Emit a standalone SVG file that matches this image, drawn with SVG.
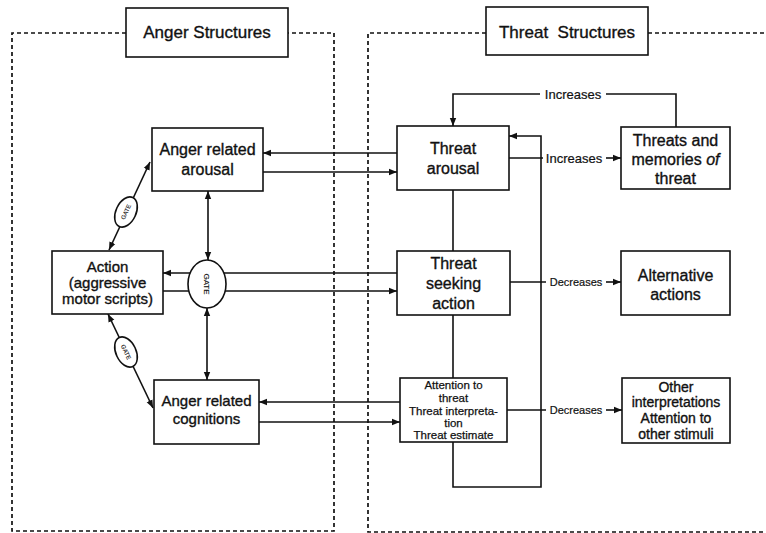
<svg xmlns="http://www.w3.org/2000/svg" width="766" height="533" viewBox="0 0 766 533">
<style>
  .frame{fill:none;stroke:#111;stroke-width:1.7;stroke-dasharray:4 3}
  .box{fill:#fff;stroke:#111;stroke-width:1.6}
  .ln{fill:none;stroke:#111;stroke-width:1.6}
  .t{font-family:"Liberation Sans",Arial,sans-serif;fill:#111;text-anchor:middle;stroke:#111;stroke-width:0.35}
  .n16{font-size:16px}
  .n15{font-size:15px}
  .n14{font-size:14px}
  .n12{font-size:11.5px;stroke-width:0.25}
  .lab{font-size:13px;stroke-width:0.2}
  .dec{font-size:11px;stroke-width:0.2}
  .g{font-size:8px;stroke-width:0.15}
  .gs{font-size:6px;stroke-width:0.1}
</style>
<defs>
  <marker id="ah" viewBox="0 0 10 10" refX="10" refY="5" markerWidth="8" markerHeight="8" orient="auto-start-reverse" markerUnits="userSpaceOnUse">
    <path d="M0,1 L10,5 L0,9 z" fill="#111"/>
  </marker>
</defs>
<rect width="766" height="533" fill="#fff"/>

<g id="frames">
  <path class="frame" d="M126,33 H12 V531 H334 V33 H288"/>
  <path class="frame" d="M486,33 H368 V532 H766 M648,33 H766"/>
</g>

<g id="connectors">
  <path class="ln" d="M397,153 H263" marker-end="url(#ah)"/>
  <path class="ln" d="M263,172 H397" marker-end="url(#ah)"/>
  <path class="ln" d="M208,191 V260" marker-start="url(#ah)" marker-end="url(#ah)"/>
  <path class="ln" d="M207,308 V380" marker-start="url(#ah)" marker-end="url(#ah)"/>
  <path class="ln" d="M397,273 H163" marker-end="url(#ah)"/>
  <path class="ln" d="M163,291 H397" marker-end="url(#ah)"/>
  <path class="ln" d="M400,402 H259" marker-end="url(#ah)"/>
  <path class="ln" d="M259,422 H400" marker-end="url(#ah)"/>
  <path class="ln" d="M150,162 L109,250" marker-start="url(#ah)" marker-end="url(#ah)"/>
  <path class="ln" d="M108,314 L153,408" marker-start="url(#ah)" marker-end="url(#ah)"/>
  <path class="ln" d="M453,190 V251 M453,315 V378"/>
  <path class="ln" d="M453,442 V487 H541 V136 H509" marker-end="url(#ah)"/>
  <path class="ln" d="M676,127 V94 H606"/>
  <path class="ln" d="M540,94 H453 V126" marker-end="url(#ah)"/>
  <text class="t lab" x="573" y="99">Increases</text>
  <path class="ln" d="M509,158 H543"/>
  <text class="t lab" x="574" y="163">Increases</text>
  <path class="ln" d="M606,158 H621" marker-end="url(#ah)"/>
  <path class="ln" d="M510,282 H546"/>
  <text class="t dec" x="576" y="286">Decreases</text>
  <path class="ln" d="M606,282 H621" marker-end="url(#ah)"/>
  <path class="ln" d="M507,410 H546"/>
  <text class="t dec" x="576" y="414">Decreases</text>
  <path class="ln" d="M606,410 H622" marker-end="url(#ah)"/>
</g>

<g id="anger-title">
  <rect class="box" x="126" y="8" width="162" height="49"/>
  <text class="t" font-size="17" x="207" y="38">Anger Structures</text>
</g>
<g id="threat-title">
  <rect class="box" x="486" y="7" width="162" height="48"/>
  <text class="t" font-size="17" x="567" y="38" style="white-space:pre">Threat  Structures</text>
</g>

<g id="anger-arousal">
  <rect class="box" x="152" y="128" width="111" height="63"/>
  <text class="t n16" x="207.5" y="155">Anger related</text>
  <text class="t n16" x="207.5" y="175">arousal</text>
</g>
<g id="action">
  <rect class="box" x="52" y="251" width="111" height="63"/>
  <text class="t n15" x="107.5" y="272">Action</text>
  <text class="t n15" x="107.5" y="288">(aggressive</text>
  <text class="t n15" x="107.5" y="304">motor scripts)</text>
</g>
<g id="gate-main">
  <ellipse class="box" cx="207" cy="284" rx="19" ry="24"/>
  <text class="t g" transform="translate(207,284) rotate(90)" y="3">GATE</text>
</g>
<g id="gate-upper">
  <ellipse class="box" cx="126" cy="212" rx="10" ry="16" transform="rotate(25 126 212)"/>
  <text class="t gs" transform="translate(126,212) rotate(-65)" y="2">GATE</text>
</g>
<g id="gate-lower">
  <ellipse class="box" cx="126" cy="352" rx="10" ry="16" transform="rotate(-25 126 352)"/>
  <text class="t gs" transform="translate(126,352) rotate(65)" y="2">GATE</text>
</g>
<g id="anger-cognitions">
  <rect class="box" x="154" y="380" width="105" height="64"/>
  <text class="t n15" x="206.5" y="406">Anger related</text>
  <text class="t n15" x="206.5" y="424">cognitions</text>
</g>

<g id="threat-arousal">
  <rect class="box" x="397" y="126" width="112" height="64"/>
  <text class="t n16" x="453" y="154">Threat</text>
  <text class="t n16" x="453" y="174">arousal</text>
</g>
<g id="threats-memories">
  <rect class="box" x="621" y="127" width="109" height="62"/>
  <text class="t n16" x="675.5" y="146">Threats and</text>
  <text class="t n16" x="675.5" y="165">memories <tspan font-style="italic">of</tspan></text>
  <text class="t n16" x="675.5" y="184">threat</text>
</g>
<g id="threat-seeking">
  <rect class="box" x="397" y="251" width="113" height="64"/>
  <text class="t n16" x="453.5" y="269">Threat</text>
  <text class="t n16" x="453.5" y="289">seeking</text>
  <text class="t n16" x="453.5" y="309">action</text>
</g>
<g id="alternative-actions">
  <rect class="box" x="621" y="251" width="109" height="64"/>
  <text class="t n16" x="675.5" y="281">Alternative</text>
  <text class="t n16" x="675.5" y="300">actions</text>
</g>
<g id="attention">
  <rect class="box" x="400" y="378" width="107" height="64"/>
  <text class="t n12" x="453.5" y="389">Attention to</text>
  <text class="t n12" x="453.5" y="402">threat</text>
  <text class="t n12" x="453.5" y="415">Threat interpreta-</text>
  <text class="t n12" x="453.5" y="427">tion</text>
  <text class="t n12" x="453.5" y="439">Threat estimate</text>
</g>
<g id="other-interpretations">
  <rect class="box" x="622" y="378" width="108" height="65"/>
  <text class="t n14" x="676" y="392">Other</text>
  <text class="t n14" x="676" y="407">interpretations</text>
  <text class="t n14" x="676" y="423">Attention to</text>
  <text class="t n14" x="676" y="439">other stimuli</text>
</g>
</svg>
